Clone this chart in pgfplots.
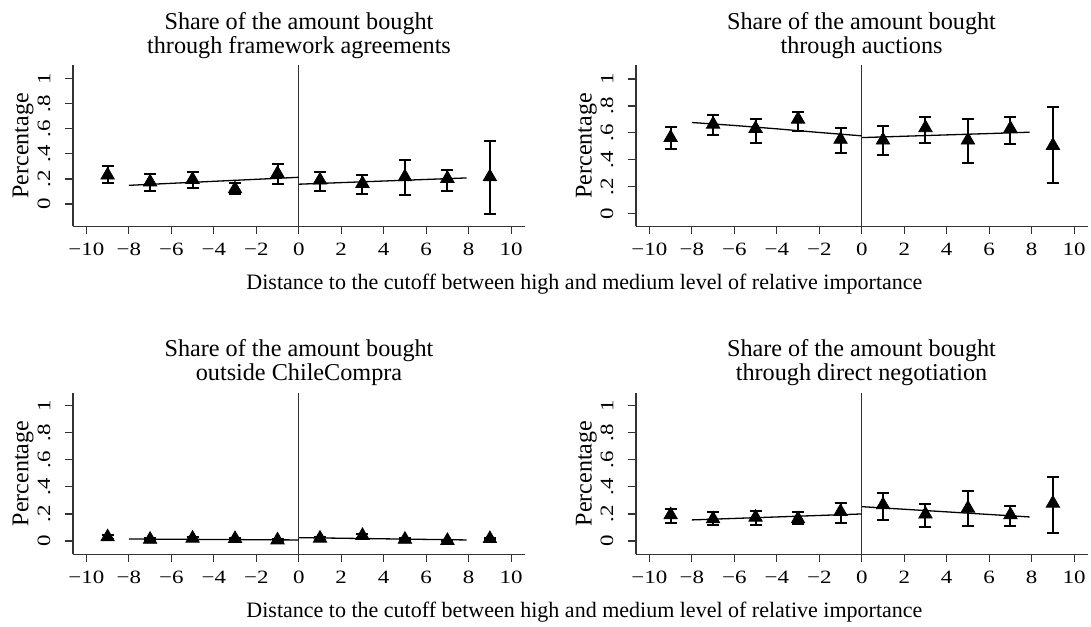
\documentclass[border=0pt]{standalone}
\usepackage{fontspec}
\setmainfont{Liberation Serif}
\newfontfamily\tickfam[FakeStretch=1.22]{Liberation Serif}
\usepackage{pgfplots}
\usepackage{pgfplotstable}
\pgfplotsset{compat=1.18}

\pgfplotstableread{
x y lo hi
-9 0.230 0.165 0.300
-7 0.175 0.107 0.237
-5 0.195 0.131 0.253
-3 0.120 0.080 0.165
-1 0.243 0.163 0.317
1 0.190 0.107 0.253
3 0.163 0.083 0.229
5 0.216 0.075 0.349
7 0.203 0.107 0.275
9 0.216 -0.080 0.501
}\dataA
\pgfplotstableread{
x y lo hi
-9 0.565 0.484 0.640
-7 0.664 0.583 0.731
-5 0.632 0.528 0.701
-3 0.701 0.612 0.753
-1 0.551 0.454 0.635
1 0.546 0.437 0.654
3 0.637 0.528 0.721
5 0.546 0.380 0.701
7 0.632 0.521 0.721
9 0.506 0.227 0.790
}\dataB
\pgfplotstableread{
x y lo hi
-9 0.030 0.018 0.042
-7 0.012 0.004 0.020
-5 0.020 0.010 0.030
-3 0.017 0.008 0.026
-1 0.007 0.000 0.014
1 0.020 0.010 0.030
3 0.040 0.026 0.054
5 0.012 0.004 0.020
7 0.003 0.000 0.006
9 0.017 0.008 0.026
}\dataC
\pgfplotstableread{
x y lo hi
-9 0.193 0.133 0.237
-7 0.163 0.116 0.212
-5 0.175 0.116 0.225
-3 0.163 0.126 0.217
-1 0.217 0.133 0.281
1 0.267 0.156 0.356
3 0.198 0.101 0.274
5 0.242 0.111 0.368
7 0.193 0.111 0.259
9 0.279 0.059 0.474
}\dataD

\pgfplotsset{
  panel/.style={
    scale only axis, width=225.75pt, height=80.75pt, anchor=south west,
    xmin=-10.63, xmax=10.63,
    axis x line*=bottom, axis y line*=left,
    axis line style={black!80, line width=0.6pt, -},
    tick style={black!80, line width=0.6pt},
    tick align=outside, major tick length=4pt,
    xtick={-10,-8,-6,-4,-2,0,2,4,6,8,10},
    xticklabels={−10,−8,−6,−4,−2,0,2,4,6,8,10},
    ytick={0,0.2,0.4,0.6,0.8,1},
    yticklabels={0,.2,.4,.6,.8,1},
    ticklabel style={font=\tickfam\fontsize{9.4}{11}\selectfont},
    xticklabel style={anchor=base, inner sep=0pt, yshift=-10.75pt},
    yticklabel style={xshift=-7.1pt, rotate=90, anchor=south, inner sep=0pt},
  },
  pts/.style={only marks, mark=triangle*, mark size=3.85pt, black,
    error bars/.cd, y dir=both, y explicit,
    error bar style={line width=1pt, black},
    error mark options={rotate=90, mark size=3pt, line width=1pt, black}},
  fit/.style={black, line width=0.65pt, no marks},
  vline/.style={black!80, line width=0.7pt, no marks},
}
\newcommand{\titlefont}{\fontsize{12.1}{12}\selectfont}
\newcommand{\labfont}{\fontsize{12}{12}\selectfont}
\newcommand{\xlabfont}{\fontsize{11}{12}\selectfont}

\begin{document}
\begin{tikzpicture}
\path[use as bounding box] (0,0) rectangle (545.5pt,313pt);

% Panel 1
\begin{axis}[panel, at={(36.5pt,199.75pt)}, ymin=-0.179, ymax=1.108]
\addplot[vline] coordinates {(0,-0.179) (0,1.108)};
\addplot[fit] coordinates {(-8,0.149) (0,0.213)};
\addplot[fit] coordinates {(0,0.158) (7.9,0.208)};
\addplot[pts] table[x=x, y=y, y error plus expr=\thisrow{hi}-\thisrow{y}, y error minus expr=\thisrow{y}-\thisrow{lo}] {\dataA};
\end{axis}

% Panel 2
\begin{axis}[panel, at={(318pt,199.75pt)}, ymin=-0.095, ymax=1.104]
\addplot[vline] coordinates {(0,-0.095) (0,1.104)};
\addplot[fit] coordinates {(-8,0.677) (-6,0.655) (-4,0.630) (-2,0.603) (0,0.578)};
\addplot[fit] coordinates {(0,0.565) (2,0.575) (4,0.585) (6,0.595) (7.9,0.605)};
\addplot[pts] table[x=x, y=y, y error plus expr=\thisrow{hi}-\thisrow{y}, y error minus expr=\thisrow{y}-\thisrow{lo}] {\dataB};
\end{axis}

% Panel 3
\begin{axis}[panel, at={(36.5pt,35.85pt)}, height=80.8pt, ymin=-0.098, ymax=1.096]
\addplot[vline] coordinates {(0,-0.098) (0,1.096)};
\addplot[fit] coordinates {(-8,0.015) (0,0.008)};
\addplot[fit] coordinates {(0,0.025) (7.9,0.008)};
\addplot[pts] table[x=x, y=y, y error plus expr=\thisrow{hi}-\thisrow{y}, y error minus expr=\thisrow{y}-\thisrow{lo}] {\dataC};
\end{axis}

% Panel 4
\begin{axis}[panel, at={(318pt,35.85pt)}, height=80.8pt, ymin=-0.098, ymax=1.096]
\addplot[vline] coordinates {(0,-0.098) (0,1.096)};
\addplot[fit] coordinates {(-8,0.156) (0,0.200)};
\addplot[fit] coordinates {(0,0.254) (7.9,0.178)};
\addplot[pts] table[x=x, y=y, y error plus expr=\thisrow{hi}-\thisrow{y}, y error minus expr=\thisrow{y}-\thisrow{lo}] {\dataD};
\end{axis}

% Titles
\node[anchor=base, font=\titlefont, inner sep=0pt] at (149.5pt,298.35pt) {Share of the amount bought};
\node[anchor=base, font=\titlefont, inner sep=0pt] at (149.5pt,286.35pt) {through framework agreements};
\node[anchor=base, font=\titlefont, inner sep=0pt] at (430.75pt,298.35pt) {Share of the amount bought};
\node[anchor=base, font=\titlefont, inner sep=0pt] at (430.75pt,286.35pt) {through auctions};
\node[anchor=base, font=\titlefont, inner sep=0pt] at (149.5pt,134.65pt) {Share of the amount bought};
\node[anchor=base, font=\titlefont, inner sep=0pt] at (149.5pt,122.5pt) {outside ChileCompra};
\node[anchor=base, font=\titlefont, inner sep=0pt] at (430.75pt,134.65pt) {Share of the amount bought};
\node[anchor=base, font=\titlefont, inner sep=0pt] at (430.75pt,122.5pt) {through direct negotiation};

% Y labels
\node[rotate=90, anchor=base, font=\labfont, inner sep=0pt] at (14.15pt,240.1pt) {Percentage};
\node[rotate=90, anchor=base, font=\labfont, inner sep=0pt] at (295.75pt,240.1pt) {Percentage};
\node[rotate=90, anchor=base, font=\labfont, inner sep=0pt] at (14.15pt,76.25pt) {Percentage};
\node[rotate=90, anchor=base, font=\labfont, inner sep=0pt] at (295.75pt,76.25pt) {Percentage};

% X labels
\node[anchor=base, font=\xlabfont, inner sep=0pt] at (292.2pt,168pt) {Distance to the cutoff between high and medium level of relative importance};
\node[anchor=base, font=\xlabfont, inner sep=0pt] at (292.2pt,4.5pt) {Distance to the cutoff between high and medium level of relative importance};
\end{tikzpicture}
\end{document}
